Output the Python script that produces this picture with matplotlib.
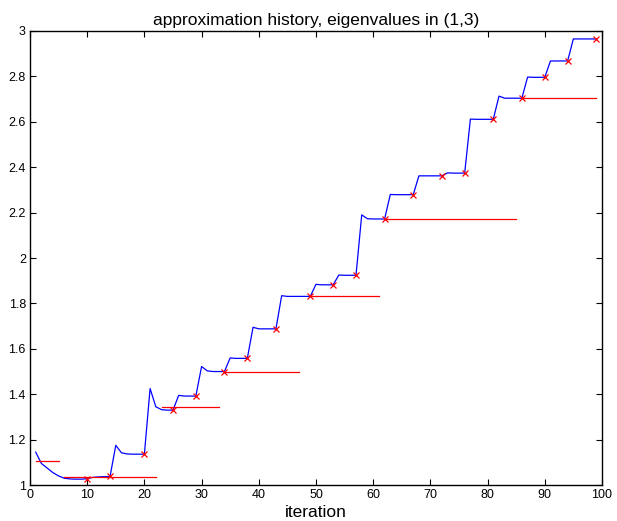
import matplotlib
matplotlib.use("Agg")
import matplotlib.pyplot as plt

# blue approximation history, one value per iteration 1..99
iterations = list(range(1, 100))
approx = [
    1.145, 1.095, 1.075, 1.055, 1.040, 1.030, 1.027, 1.026, 1.026, 1.028,
    1.034, 1.036, 1.037, 1.038, 1.175, 1.142, 1.137, 1.136, 1.136, 1.136,
    1.425, 1.345, 1.332, 1.330, 1.330, 1.395, 1.392, 1.392, 1.392, 1.522,
    1.503, 1.500, 1.500, 1.500, 1.560, 1.558, 1.558, 1.558, 1.695, 1.688,
    1.688, 1.688, 1.688, 1.834, 1.831, 1.831, 1.831, 1.831, 1.831, 1.884,
    1.882, 1.882, 1.882, 1.925, 1.924, 1.924, 1.924, 2.190, 2.173, 2.172,
    2.172, 2.172, 2.280, 2.279, 2.279, 2.279, 2.279, 2.362, 2.362, 2.362,
    2.362, 2.362, 2.375, 2.374, 2.374, 2.374, 2.612, 2.611, 2.611, 2.611,
    2.611, 2.713, 2.704, 2.704, 2.704, 2.704, 2.797, 2.796, 2.796, 2.796,
    2.868, 2.868, 2.868, 2.868, 2.965, 2.965, 2.965, 2.965, 2.965,
]

# iterations marked with red crosses
mark_iters = [10, 14, 20, 25, 29, 34, 38, 43, 49, 53, 57, 62, 67, 72, 76,
              81, 86, 90, 94, 99]

# red horizontal segments
seg_start = [1, 6, 23, 34, 49, 62, 86]
seg_end = [5, 22, 33, 47, 61, 85, 99]
seg_val = [1.105, 1.037, 1.343, 1.500, 1.831, 2.172, 2.705]

plt.rcParams["font.family"] = ["Liberation Sans", "DejaVu Sans"]

fig = plt.figure(figsize=(6.17, 5.21), dpi=100)
ax = fig.add_axes([0.0486, 0.069, 0.927, 0.8715])

ax.plot(iterations, approx, color="#0000ff", linewidth=0.9)
for x0, x1, v in zip(seg_start, seg_end, seg_val):
    ax.plot([x0, x1], [v, v], color="#ff0000", linewidth=0.9)
mark_vals = [approx[i - 1] for i in mark_iters]
ax.plot(mark_iters, mark_vals, linestyle="none", marker="x",
        color="#ff0000", markersize=5, markeredgewidth=0.9)

ax.set_xlim(0, 100)
ax.set_ylim(1, 3)
ax.set_xticks(range(0, 101, 10))
ax.set_yticks([1, 1.2, 1.4, 1.6, 1.8, 2, 2.2, 2.4, 2.6, 2.8, 3])
ax.set_yticklabels(["1", "1.2", "1.4", "1.6", "1.8", "2", "2.2", "2.4",
                    "2.6", "2.8", "3"])
ax.tick_params(direction="in", top=True, right=True, length=4,
               width=0.8, labelsize=9, pad=3)
for s in ax.spines.values():
    s.set_linewidth(1.0)

ax.set_xlabel("iteration", fontsize=12.5, labelpad=3)
ax.set_title("approximation history, eigenvalues in (1,3)", fontsize=12.5, pad=4)

fig.savefig("out.png", dpi=100)
